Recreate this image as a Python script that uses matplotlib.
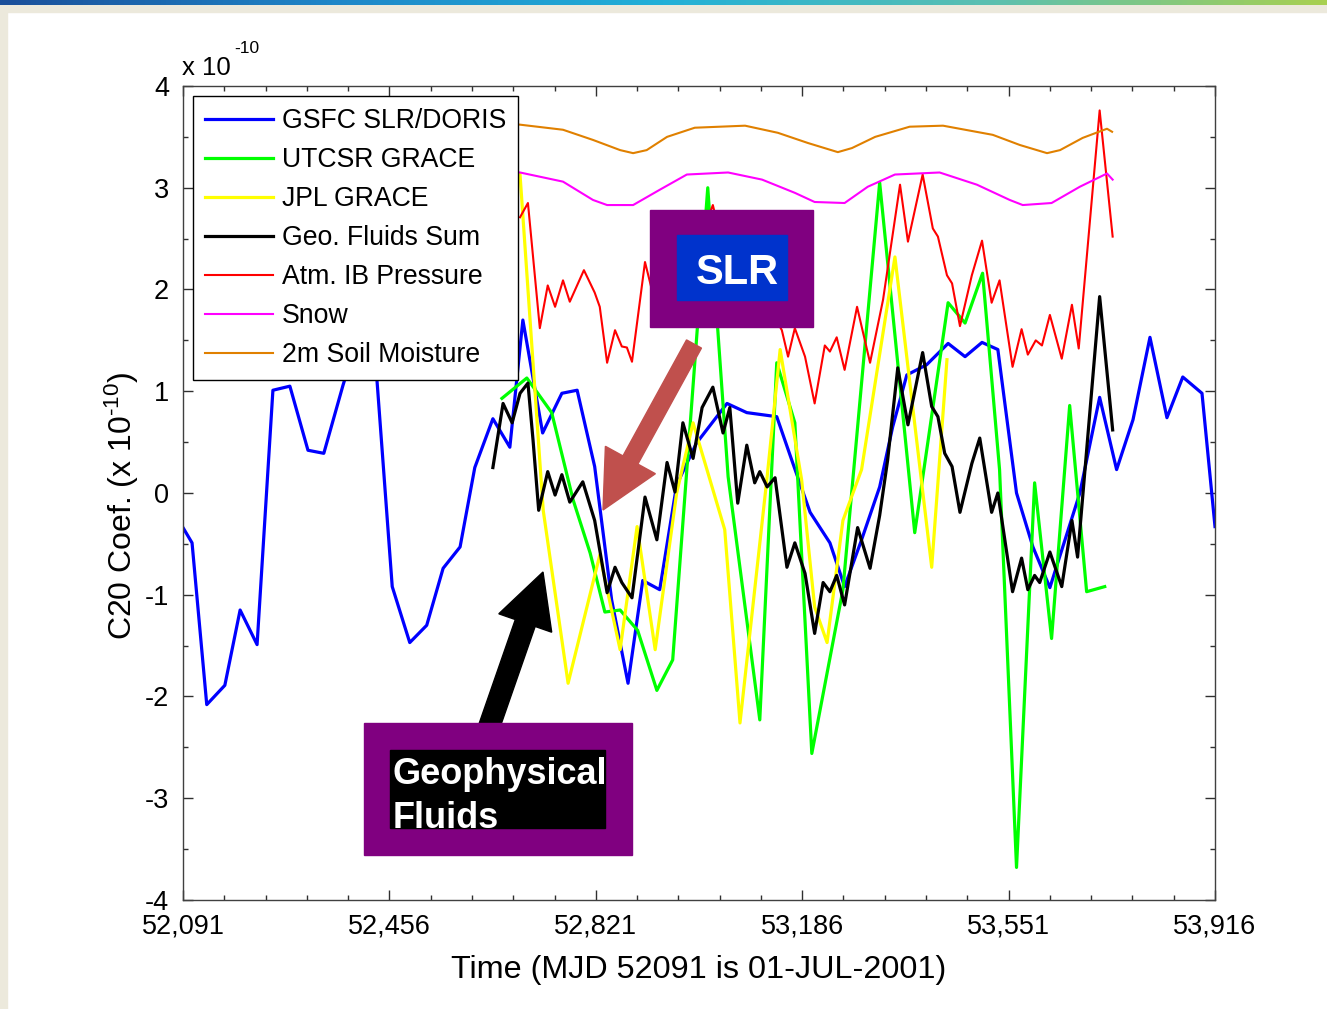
import numpy as np
import matplotlib
matplotlib.use('Agg')
import matplotlib.pyplot as plt
from matplotlib.patches import Rectangle, FancyArrow
from matplotlib.transforms import IdentityTransform
from matplotlib.ticker import FixedLocator, FuncFormatter
from matplotlib.colors import LinearSegmentedColormap

plt.rcParams['font.family'] = ['Liberation Sans', 'DejaVu Sans']
plt.rcParams['mathtext.fontset'] = 'custom'
plt.rcParams['mathtext.rm'] = 'Liberation Sans'
plt.rcParams['mathtext.default'] = 'regular'
plt.rcParams['axes.unicode_minus'] = False

# data, C20 in units of 1e-10, time in MJD
gsfc_mjd = [52091, 52107, 52133, 52165, 52192, 52222, 52250, 52280, 52312, 52340,
            52374, 52404, 52434, 52461, 52492, 52522, 52551, 52581, 52607, 52639,
            52669, 52692, 52727, 52761, 52788, 52819, 52849, 52878, 52904, 52934,
            52964, 52999, 53053, 53088, 53141, 53169, 53200, 53235, 53261, 53291,
            53323, 53346, 53371, 53406, 53444, 53474, 53504, 53532, 53565, 53594,
            53624, 53677, 53712, 53742, 53771, 53801, 53831, 53859, 53893, 53916]
gsfc = [-0.34, -0.49, -2.08, -1.89, -1.15, -1.49, 1.01, 1.05, 0.42, 0.39,
        1.06, 1.60, 1.11, -0.92, -1.47, -1.30, -0.74, -0.53, 0.25, 0.73,
        0.45, 1.70, 0.59, 0.98, 1.01, 0.26, -1.05, -1.87, -0.86, -0.95,
        0.08, 0.49, 0.88, 0.79, 0.75, 0.30, -0.19, -0.49, -0.92, -0.46,
        0.06, 0.65, 1.16, 1.26, 1.47, 1.34, 1.48, 1.41, 0.0, -0.53,
        -0.93, 0.0, 0.94, 0.23, 0.72, 1.53, 0.74, 1.14, 0.98, -0.33]

csr_mjd = [52655, 52699, 52743, 52781, 52811, 52837, 52864, 52895, 52929, 52957,
           53019, 53055, 53111, 53141, 53173, 53203, 53258, 53323, 53385, 53444,
           53474, 53505, 53535, 53565, 53597, 53627, 53659, 53689, 53721]
csr = [0.93, 1.13, 0.79, -0.07, -0.59, -1.17, -1.15, -1.35, -1.94, -1.64,
       3.00, 0.16, -2.23, 1.28, 0.69, -2.56, -0.95, 3.05, -0.39, 1.87,
       1.67, 2.16, 0.23, -3.68, 0.10, -1.43, 0.86, -0.97, -0.92]

jpl_mjd = [52687, 52728, 52772, 52828, 52864, 52894, 52926, 52964, 52993, 53049,
           53076, 53124, 53147, 53185, 53208, 53230, 53258, 53291, 53350, 53415,
           53442]
jpl = [3.13, -0.17, -1.87, -0.61, -1.54, -0.33, -1.54, 0.0, 0.69, -0.36,
       -2.26, 0.16, 1.41, 0.13, -1.12, -1.47, -0.27, 0.23, 2.32, -0.73,
       1.31]

geo_mjd = [52639, 52657, 52673, 52687, 52701, 52710, 52720, 52736, 52749, 52761,
           52775, 52798, 52819, 52841, 52855, 52867, 52885, 52908, 52929, 52947,
           52961, 52975, 52993, 53009, 53028, 53046, 53058, 53072, 53088, 53102,
           53111, 53124, 53138, 53159, 53173, 53191, 53208, 53223, 53235, 53247,
           53261, 53284, 53306, 53323, 53337, 53355, 53373, 53399, 53415, 53426,
           53438, 53451, 53465, 53486, 53500, 53521, 53532, 53558, 53574, 53585,
           53597, 53606, 53624, 53645, 53663, 53673, 53712, 53735]
geo = [0.25, 0.88, 0.69, 0.98, 1.08, 0.52, -0.17, 0.21, -0.02, 0.18,
       -0.09, 0.11, -0.27, -0.98, -0.73, -0.88, -1.03, -0.04, -0.46, 0.30,
       0.01, 0.69, 0.34, 0.84, 1.04, 0.59, 0.84, -0.10, 0.47, 0.10,
       0.21, 0.06, 0.15, -0.73, -0.49, -0.79, -1.38, -0.88, -0.97, -0.81,
       -1.10, -0.34, -0.74, -0.22, 0.32, 1.23, 0.67, 1.38, 0.85, 0.75,
       0.39, 0.26, -0.19, 0.29, 0.54, -0.19, 0.0, -0.97, -0.64, -0.95,
       -0.81, -0.88, -0.58, -0.92, -0.27, -0.63, 1.93, 0.62]

atm_mjd = [52687, 52701, 52722, 52736, 52749, 52763, 52775, 52800, 52819, 52828,
           52841, 52855, 52867, 52876, 52885, 52908, 52920, 52943, 52970, 53005,
           53028, 53049, 53085, 53120, 53150, 53161, 53173, 53191, 53208, 53226,
           53235, 53247, 53261, 53283, 53306, 53329, 53359, 53373, 53399, 53417,
           53426, 53442, 53451, 53465, 53486, 53504, 53521, 53535, 53558, 53574,
           53585, 53599, 53610, 53624, 53645, 53663, 53675, 53712, 53735]
atm = [2.71, 2.85, 1.62, 2.04, 1.83, 2.09, 1.88, 2.19, 1.97, 1.83,
       1.28, 1.60, 1.44, 1.43, 1.29, 2.27, 2.00, 1.90, 2.34, 2.49,
       2.83, 2.34, 2.44, 1.90, 1.60, 1.34, 1.62, 1.34, 0.88, 1.45,
       1.39, 1.53, 1.21, 1.83, 1.28, 1.90, 3.03, 2.47, 3.13, 2.60,
       2.52, 2.14, 2.06, 1.64, 2.14, 2.48, 1.87, 2.09, 1.24, 1.61,
       1.36, 1.50, 1.45, 1.75, 1.32, 1.85, 1.42, 3.76, 2.52]

snow_mjd = [52687, 52763, 52816, 52841, 52887, 52934, 52982, 53055, 53115, 53173,
            53208, 53261, 53302, 53350, 53429, 53495, 53553, 53576, 53627, 53677,
            53725, 53735]
snow = [3.15, 3.06, 2.88, 2.83, 2.83, 2.98, 3.13, 3.15, 3.08, 2.95,
        2.86, 2.85, 3.01, 3.13, 3.15, 3.03, 2.88, 2.83, 2.85, 3.01,
        3.14, 3.08]

soil_mjd = [52687, 52763, 52816, 52864, 52887, 52911, 52947, 52996, 53085, 53143,
            53196, 53249, 53274, 53315, 53376, 53435, 53523, 53571, 53619, 53642,
            53682, 53725, 53734]
soil = [3.62, 3.57, 3.47, 3.37, 3.34, 3.37, 3.50, 3.59, 3.61, 3.54,
        3.44, 3.35, 3.39, 3.50, 3.60, 3.61, 3.52, 3.42, 3.34, 3.37,
        3.49, 3.58, 3.55]

xticks = [52091, 52456, 52821, 53186, 53551, 53916]

W, H = 1327, 1009
fig = plt.figure(figsize=(W / 100, H / 100), dpi=100)
fig.patch.set_facecolor('white')


def frac(x0, y0, x1, y1):
    # image pixel box -> figure fraction rect
    return (x0 / W, 1 - y1 / H, (x1 - x0) / W, (y1 - y0) / H)


def rect(x0, y0, x1, y1, c, z):
    r = frac(x0, y0, x1, y1)
    fig.add_artist(Rectangle(r[:2], r[2], r[3], transform=fig.transFigure, color=c, zorder=z))


# slide frame: gradient bar, beige strips
beige = '#ECE9DC'
rect(0, 0, W, 12, beige, 0)
rect(0, 0, 7, H, beige, 0)
gax = fig.add_axes(frac(0, 0, W, 5))
gcm = LinearSegmentedColormap.from_list('bar', ['#1A4F9A', '#1E86C8', '#22B0D8', '#5CC0B0', '#A8D050'])
gax.imshow(np.linspace(0, 1, 256)[None, :], aspect='auto', cmap=gcm)
gax.axis('off')

ax = fig.add_axes(frac(183, 86, 1215, 900))

thick = 2.3
thin = 1.5
ax.plot(gsfc_mjd, gsfc, color='#0000FF', lw=thick, label='GSFC SLR/DORIS')
ax.plot(csr_mjd, csr, color='#00FF00', lw=thick, label='UTCSR GRACE')
ax.plot(jpl_mjd, jpl, color='#FFFF00', lw=thick, label='JPL GRACE')
ax.plot(geo_mjd, geo, color='black', lw=thick, label='Geo. Fluids Sum', solid_joinstyle='round')
ax.plot(atm_mjd, atm, color='#FF0000', lw=thin, label='Atm. IB Pressure')
ax.plot(snow_mjd, snow, color='#FF00FF', lw=thin, label='Snow')
ax.plot(soil_mjd, soil, color='#E08000', lw=thin, label='2m Soil Moisture')

ax.set_xlim(52091, 53916)
ax.set_ylim(-4, 4)
ax.xaxis.set_major_locator(FixedLocator(xticks))
ax.xaxis.set_minor_locator(FixedLocator(np.arange(52091, 53917, 73)))
ax.xaxis.set_major_formatter(FuncFormatter(lambda v, p: '{:,}'.format(int(round(v)))))
ax.yaxis.set_major_locator(FixedLocator(np.arange(-4, 5, 1)))
ax.yaxis.set_minor_locator(FixedLocator(np.arange(-4, 4.01, 0.5)))
ax.yaxis.set_major_formatter(FuncFormatter(lambda v, p: '%d' % v))
ax.tick_params(which='both', direction='in', top=True, right=True, color='#303030',
               labelsize=19.5, width=1)
ax.tick_params(which='major', length=7, pad=10)
ax.tick_params(which='minor', length=3.5)
for s in ax.spines.values():
    s.set_color('#404040')
    s.set_linewidth(1)

ax.set_xlabel('Time (MJD 52091 is 01-JUL-2001)', fontsize=23.3)
ax.xaxis.set_label_coords(0.5, -0.068)
ax.set_ylabel('C20 Coef. (x 10$^{\\text{-}10}$)', fontsize=23, va='center')
ax.yaxis.set_label_coords(-0.059, 0.484)

fig.text(182 / W, 1 - 75 / H, 'x 10', fontsize=18.5, va='baseline', ha='left')
fig.text(234 / W, 1 - 53 / H, '-10', fontsize=12.5, va='baseline', ha='left')

leg = ax.legend(loc='upper left', bbox_to_anchor=(10 / 1032, 1 - 10 / 814), borderaxespad=0,
                fontsize=19.2, frameon=True, fancybox=False, edgecolor='black', framealpha=1,
                handlelength=2.55, handletextpad=0.33, labelspacing=0.49, borderpad=0.45)
leg.get_frame().set_linewidth(1)

# annotation boxes
purple = '#800080'
rect(650, 210, 813, 327, purple, 5)
rect(677, 235, 787, 300, '#0033CC', 6)
fig.text(737 / W, 1 - 284 / H, 'SLR', color='white', fontsize=30, fontweight='bold',
         ha='center', va='baseline', zorder=7)

# arrows in pixel space
fig.add_artist(FancyArrow(694, H - 344, -91, -166, width=17, head_width=57, head_length=57,
                          length_includes_head=True, color='#C0504D', transform=IdentityTransform(),
                          zorder=5))
fig.add_artist(FancyArrow(488, H - 730, 55, 158, width=21, head_width=56, head_length=54,
                          length_includes_head=True, color='black', transform=IdentityTransform(),
                          zorder=5))

rect(364, 723, 632, 855, purple, 6)
rect(390, 750, 605, 828, 'black', 7)
fig.text(393 / W, 1 - 784 / H, 'Geophysical', color='white', fontsize=26, fontweight='bold',
         ha='left', va='baseline', zorder=8)
fig.text(393 / W, 1 - 828 / H, 'Fluids', color='white', fontsize=26, fontweight='bold',
         ha='left', va='baseline', zorder=8)

fig.savefig('out.png', dpi=100)
